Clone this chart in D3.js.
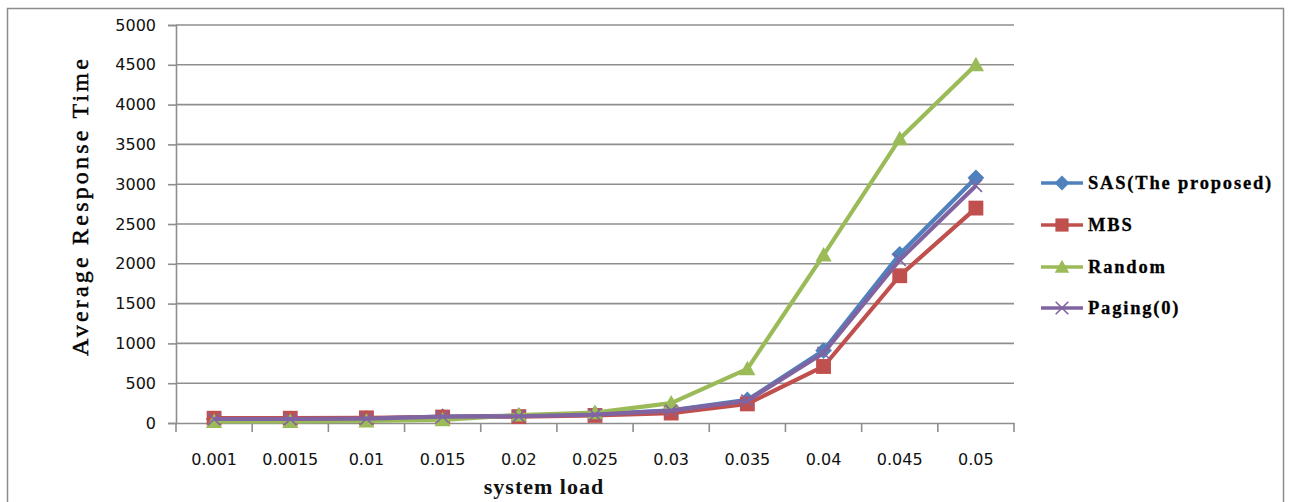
<!DOCTYPE html>
<html>
<head>
<meta charset="utf-8">
<script src="https://cdn.jsdelivr.net/npm/d3@7/dist/d3.min.js"></script>
<style>
  html, body { margin: 0; padding: 0; background: #fff; }
  svg { display: block; }
</style>
</head>
<body>
<svg id="chart" width="1297" height="502"></svg>
<script>
// System load levels (category axis)
const loads = ["0.001", "0.0015", "0.01", "0.015", "0.02", "0.025", "0.03", "0.035", "0.04", "0.045", "0.05"];

// Average response time for each scheme
const sasValues    = [50, 50, 55, 80, 90, 110, 160, 290, 910, 2120, 3080];
const mbsValues    = [60, 60, 65, 75, 80, 95, 125, 240, 710, 1850, 2700];
const randomValues = [20, 20, 25, 40, 100, 130, 250, 680, 2110, 3570, 4500];
const pagingValues = [50, 50, 55, 80, 85, 105, 155, 280, 880, 2050, 2980];

const seriesNames = ["SAS(The proposed)", "MBS", "Random", "Paging(0)"];
const yTicks = [0, 500, 1000, 1500, 2000, 2500, 3000, 3500, 4000, 4500, 5000];

const series = [
  { name: seriesNames[0], values: sasValues,    color: "#4F81BD", marker: "diamond" },
  { name: seriesNames[1], values: mbsValues,    color: "#C0504D", marker: "square" },
  { name: seriesNames[2], values: randomValues, color: "#9BBB59", marker: "triangle" },
  { name: seriesNames[3], values: pagingValues, color: "#8064A2", marker: "cross" }
];

const svg = d3.select("#chart");

// Outer chart frame
svg.append("rect")
  .attr("x", 7.5).attr("y", 8.5)
  .attr("width", 1276).attr("height", 510)
  .attr("fill", "#fff")
  .attr("stroke", "#8c8c8c").attr("stroke-width", 1.5);

const plot = { left: 176, right: 1014, top: 25, bottom: 423 };

const x = d3.scaleBand().domain(loads).range([plot.left, plot.right]).padding(0);
const y = d3.scaleLinear().domain([0, 5000]).range([plot.bottom, plot.top]);
const cx = d => x(d) + x.bandwidth() / 2;

// Horizontal gridlines
svg.append("g")
  .selectAll("line")
  .data(yTicks.filter(t => t > 0))
  .join("line")
  .attr("x1", plot.left).attr("x2", plot.right)
  .attr("y1", d => y(d)).attr("y2", d => y(d))
  .attr("stroke", "#8e8e8e").attr("stroke-width", 1.6);

// Y axis
const yAxis = svg.append("g")
  .attr("transform", `translate(${plot.left},0)`)
  .call(d3.axisLeft(y).tickValues(yTicks).tickSize(8).tickPadding(12).tickFormat(d3.format("d")));
yAxis.select(".domain").attr("stroke", "#8e8e8e").attr("stroke-width", 1.6);
yAxis.selectAll(".tick line").attr("stroke", "#8e8e8e").attr("stroke-width", 1.6);
yAxis.selectAll(".tick text")
  .attr("font-family", "'DejaVu Sans', sans-serif")
  .attr("font-size", 16).attr("fill", "#111");

// X axis: labels at category centres, tick marks between categories
const xAxis = svg.append("g")
  .attr("transform", `translate(0,${plot.bottom})`)
  .call(d3.axisBottom(x).tickSize(0).tickPadding(31));
xAxis.select(".domain").attr("stroke", "#8e8e8e").attr("stroke-width", 1.6);
xAxis.selectAll(".tick text")
  .attr("font-family", "'DejaVu Sans', sans-serif")
  .attr("font-size", 16).attr("fill", "#111");

const boundaries = loads.map(d => x(d)).concat([plot.right]);
svg.append("g")
  .selectAll("line")
  .data(boundaries)
  .join("line")
  .attr("x1", d => d).attr("x2", d => d)
  .attr("y1", plot.bottom).attr("y2", plot.bottom + 9)
  .attr("stroke", "#8e8e8e").attr("stroke-width", 1.6);

// Axis titles
svg.append("text")
  .attr("transform", "translate(88,206) rotate(-90)")
  .attr("text-anchor", "middle")
  .attr("font-family", "'Liberation Serif', 'Times New Roman', serif")
  .attr("font-size", 24)
  .attr("letter-spacing", 3.2)
  .attr("fill", "#000")
  .attr("stroke", "#000").attr("stroke-width", 0.45)
  .text("Average Response Time");

svg.append("text")
  .attr("x", 544).attr("y", 494)
  .attr("text-anchor", "middle")
  .attr("font-family", "'Liberation Serif', 'Times New Roman', serif")
  .attr("font-size", 22).attr("font-weight", "bold")
  .attr("letter-spacing", 1)
  .attr("fill", "#111")
  .text("system load");

// Marker shapes
function drawMarker(g, kind, color, px, py, s) {
  if (kind === "diamond") {
    const r = s * 0.62;
    g.append("path")
      .attr("d", `M${px},${py - r}L${px + r},${py}L${px},${py + r}L${px - r},${py}Z`)
      .attr("fill", color);
  } else if (kind === "square") {
    const h = s * 0.55;
    g.append("rect")
      .attr("x", px - h).attr("y", py - h)
      .attr("width", 2 * h).attr("height", 2 * h)
      .attr("fill", color);
  } else if (kind === "triangle") {
    const h = s * 0.6;
    g.append("path")
      .attr("d", `M${px},${py - h}L${px + h},${py + h * 0.8}L${px - h},${py + h * 0.8}Z`)
      .attr("fill", color);
  } else if (kind === "cross") {
    const h = s * 0.45;
    g.append("path")
      .attr("d", `M${px - h},${py - h}L${px + h},${py + h}M${px - h},${py + h}L${px + h},${py - h}`)
      .attr("stroke", color).attr("stroke-width", 1.6).attr("fill", "none");
  }
}

// Series lines with markers
const line = d3.line().x((d, i) => cx(loads[i])).y(d => y(d));

series.forEach(s => {
  const g = svg.append("g");
  g.append("path")
    .datum(s.values)
    .attr("d", line)
    .attr("fill", "none")
    .attr("stroke", s.color)
    .attr("stroke-width", 4.2)
    .attr("stroke-linejoin", "round");
  s.values.forEach((v, i) => drawMarker(g, s.marker, s.color, cx(loads[i]), y(v), 13.5));
});

// Legend
const legendRows = [183, 225, 267, 308];
series.forEach((s, i) => {
  const g = svg.append("g");
  const ly = legendRows[i];
  g.append("line")
    .attr("x1", 1041).attr("x2", 1083)
    .attr("y1", ly).attr("y2", ly)
    .attr("stroke", s.color).attr("stroke-width", 3.5);
  drawMarker(g, s.marker, s.color, 1062, ly, s.marker === "cross" ? 14 : 12);
  g.append("text")
    .attr("x", 1088).attr("y", ly + 6)
    .attr("font-family", "'Liberation Serif', 'Times New Roman', serif")
    .attr("font-size", 18.5).attr("font-weight", "bold")
    .attr("letter-spacing", 1.8)
    .attr("fill", "#000")
    .attr("stroke", "#000").attr("stroke-width", 0.3)
    .text(s.name);
});
</script>
</body>
</html>
